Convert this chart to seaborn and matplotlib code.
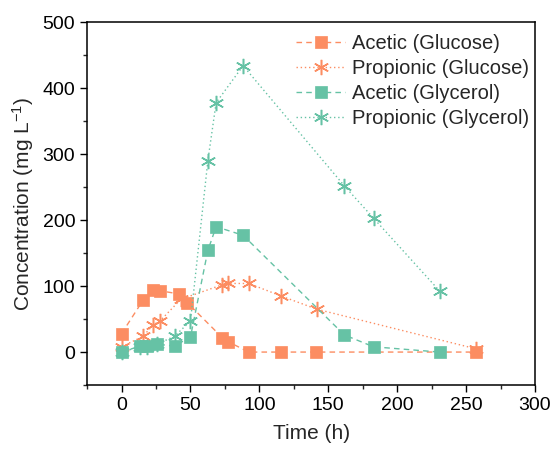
import matplotlib
matplotlib.use("Agg")
import matplotlib.pyplot as plt
import seaborn as sns
import pandas as pd
from matplotlib.ticker import MultipleLocator

sns.set_theme(style="ticks")
plt.rcParams['font.family'] = ['Liberation Sans', 'DejaVu Sans']
plt.rcParams['mathtext.fontset'] = 'custom'
plt.rcParams['mathtext.rm'] = 'Liberation Sans'
plt.rcParams['mathtext.it'] = 'Liberation Sans:italic'
plt.rcParams['mathtext.bf'] = 'Liberation Sans:bold'

# Data
t_acetic_glucose = [0, 15.7, 22.7, 27.8, 41.8, 47.6, 73, 77, 92.3, 115.7, 141, 257]
acetic_glucose = [28, 79, 94, 93, 88, 75, 22, 16, 0, 0, 0, 0]

t_prop_glucose = [0, 15.7, 22.7, 27.8, 43, 73, 77, 92.3, 115.7, 141.6, 257]
prop_glucose = [8, 24, 41, 47, 80, 102, 104, 104, 85, 65, 5]

t_acetic_glycerol = [0, 13.3, 18.6, 25.8, 38.4, 50, 62.6, 68.6, 88.2, 161.6, 182.8, 230.7]
acetic_glycerol = [0, 9, 9, 12, 9, 23, 154, 190, 177, 26, 8, 0]

t_prop_glycerol = [0, 13.3, 18.6, 25.8, 38.4, 50, 62.6, 68.6, 88.2, 161.6, 182.8, 231]
prop_glycerol = [0, 8, 8, 12, 24, 47, 290, 378, 434, 252, 203, 92]

labels = ["Acetic (Glucose)", "Propionic (Glucose)", "Acetic (Glycerol)", "Propionic (Glycerol)"]
orange = "#fc8d62"
green = "#66c2a5"

fig = plt.figure(figsize=(5.55, 4.53), dpi=100)
ax = fig.add_axes([0.157, 0.150, 0.807, 0.801])

asterisk = (6, 2, 0)
series = [
    (t_acetic_glucose, acetic_glucose, orange, 's', (4, 3), 8),
    (t_prop_glucose, prop_glucose, orange, asterisk, (1, 2), 11),
    (t_acetic_glycerol, acetic_glycerol, green, 's', (4, 3), 8),
    (t_prop_glycerol, prop_glycerol, green, asterisk, (1, 2), 11),
]
for (x, y, c, m, d, ms), lab in zip(series, labels):
    df = pd.DataFrame({"x": x, "y": y})
    sns.lineplot(data=df, x="x", y="y", ax=ax, color=c, marker=m, markersize=ms,
                 markeredgecolor=c, markeredgewidth=1.1 if m == asterisk else 0.5,
                 linewidth=1.0, dashes=False, sort=False, label=lab,
                 estimator=None)
    ax.lines[-1].set_dashes(d)

ax.set_xlim(-25, 300)
ax.set_ylim(-50, 500)
ax.xaxis.set_major_locator(MultipleLocator(50))
ax.xaxis.set_minor_locator(MultipleLocator(25))
ax.yaxis.set_major_locator(MultipleLocator(100))
ax.yaxis.set_minor_locator(MultipleLocator(50))
ax.tick_params(which='major', direction='out', length=5, width=1, labelsize=14, colors='black')
ax.tick_params(which='minor', direction='out', length=3, width=1)
for s in ax.spines.values():
    s.set_visible(True)
    s.set_color('black')
    s.set_linewidth(1.1)

ax.set_xlabel("Time (h)", fontsize=15, labelpad=7)
ax.set_ylabel("Concentration (mg L$^{-1}$)", fontsize=15, labelpad=5)

leg = ax.legend(loc='upper right', frameon=False, fontsize=14.5, handlelength=2.4,
                handletextpad=0.35, labelspacing=0.3, borderaxespad=0.0,
                borderpad=0.3, bbox_to_anchor=(1.0, 0.985))

fig.savefig("out.png", dpi=100)
